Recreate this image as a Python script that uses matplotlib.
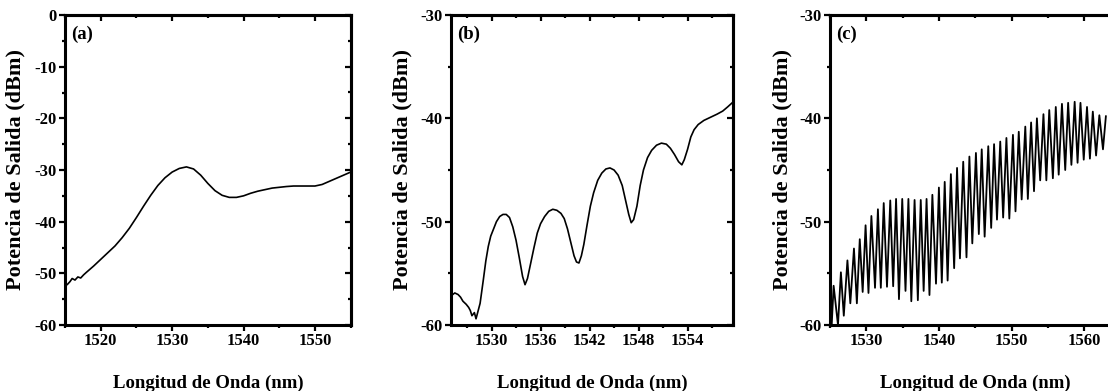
import numpy as np
import matplotlib
matplotlib.use("Agg")
import matplotlib.pyplot as plt
from matplotlib.ticker import MultipleLocator

plt.rcParams['font.family'] = ['Liberation Serif', 'DejaVu Serif']
plt.rcParams['font.weight'] = 'bold'
plt.rcParams['axes.unicode_minus'] = False

# ---------------- data ----------------
wl_a = [1515.0, 1515.3, 1515.7, 1516.0, 1516.4, 1516.8, 1517.2, 1517.6, 1518.0, 1518.5,
        1519.0, 1520.0, 1521.0, 1522.0, 1523.0, 1524.0, 1525.0, 1526.0, 1527.0, 1528.0,
        1529.0, 1530.0, 1531.0, 1532.0, 1533.0, 1534.0, 1535.0, 1536.0, 1537.0, 1538.0,
        1539.0, 1540.0, 1541.0, 1542.0, 1543.0, 1544.0, 1545.0, 1546.0, 1547.0, 1548.0,
        1549.0, 1550.0, 1551.0, 1552.0, 1553.0, 1554.0, 1555.0]
pw_a = [-52.0, -52.2, -51.6, -51.0, -51.3, -50.7, -50.9, -50.3, -49.8, -49.2,
        -48.6, -47.3, -46.0, -44.7, -43.1, -41.3, -39.2, -37.0, -34.9, -33.0,
        -31.5, -30.4, -29.7, -29.4, -29.8, -31.0, -32.6, -34.0, -34.9, -35.3,
        -35.3, -35.0, -34.5, -34.1, -33.8, -33.5, -33.35, -33.2, -33.1, -33.1,
        -33.1, -33.1, -32.8, -32.2, -31.6, -31.0, -30.4]

wl_b = [1525.0, 1525.5, 1525.9, 1526.2, 1526.5, 1526.9, 1527.2, 1527.4, 1527.6, 1527.9,
        1528.1, 1528.4, 1528.6, 1529.0, 1529.3, 1529.6, 1529.9, 1530.2, 1530.6, 1531.0,
        1531.4, 1531.8, 1532.2, 1532.6, 1533.0, 1533.4, 1533.8, 1534.1, 1534.4, 1534.8,
        1535.2, 1535.6, 1536.0, 1536.5, 1537.0, 1537.5, 1538.0, 1538.5, 1538.9, 1539.3,
        1539.7, 1540.1, 1540.4, 1540.7, 1541.0, 1541.3, 1541.7, 1542.1, 1542.5, 1543.0,
        1543.5, 1544.0, 1544.5, 1545.0, 1545.5, 1546.0, 1546.4, 1546.8, 1547.1, 1547.4,
        1547.8, 1548.2, 1548.6, 1549.1, 1549.6, 1550.2, 1550.8, 1551.4, 1551.9, 1552.4,
        1552.9, 1553.3, 1553.6, 1554.0, 1554.4, 1554.8, 1555.3, 1556.0, 1556.8, 1557.6,
        1558.3, 1558.9, 1559.6]
pw_b = [-57.2, -56.9, -57.05, -57.3, -57.7, -58.0, -58.3, -58.6, -59.1, -58.8,
        -59.4, -58.5, -57.9, -55.6, -53.8, -52.4, -51.4, -50.8, -50.0, -49.5,
        -49.3, -49.3, -49.6, -50.5, -51.8, -53.5, -55.3, -56.1, -55.5, -54.0,
        -52.5, -51.1, -50.2, -49.5, -49.0, -48.8, -48.9, -49.2, -49.7, -50.7,
        -52.0, -53.3, -53.9, -54.0, -53.3, -52.2, -50.3, -48.5, -47.2, -46.0,
        -45.3, -44.9, -44.8, -45.0, -45.5, -46.5, -47.9, -49.3, -50.1, -49.8,
        -48.5, -46.5, -45.0, -43.8, -43.1, -42.6, -42.4, -42.5, -42.9, -43.5,
        -44.2, -44.5, -44.0, -43.0, -41.8, -41.1, -40.6, -40.2, -39.9, -39.6,
        -39.3, -38.9, -38.4]

# panel (c): fringe peaks and valleys
peak_wl_c = [1525.5, 1526.5, 1527.4, 1528.3, 1529.1, 1529.9, 1530.7, 1531.6, 1532.4, 1533.3,
             1534.1, 1534.95, 1535.8, 1536.65, 1537.5, 1538.3, 1539.1, 1540.0, 1540.8, 1541.65,
             1542.5, 1543.35, 1544.2, 1545.1, 1545.9, 1546.8, 1547.6, 1548.45, 1549.3, 1550.2,
             1551.0, 1551.9, 1552.7, 1553.5, 1554.4, 1555.2, 1556.1, 1556.95, 1557.8, 1558.7,
             1559.5, 1560.4, 1561.2, 1562.1, 1563.0]
peak_pw_c = [-56.2, -54.9, -53.75, -52.6, -51.7, -50.35, -49.45, -48.8, -48.2, -47.95,
             -47.8, -47.8, -47.8, -47.9, -47.9, -47.8, -47.4, -46.7, -46.15, -45.4,
             -44.8, -44.2, -43.7, -43.35, -43.0, -42.7, -42.5, -42.25, -41.9, -41.6,
             -41.3, -40.8, -40.4, -40.0, -39.6, -39.2, -38.9, -38.6, -38.5, -38.4,
             -38.5, -38.9, -39.35, -39.7, -39.8]
valley_wl_c = [1525.2, 1526.1, 1526.9, 1527.8, 1528.7, 1529.5, 1530.3, 1531.2, 1532.0, 1532.85,
               1533.7, 1534.5, 1535.4, 1536.2, 1537.1, 1537.9, 1538.7, 1539.6, 1540.4, 1541.2,
               1542.1, 1542.9, 1543.8, 1544.6, 1545.5, 1546.3, 1547.2, 1548.0, 1548.85, 1549.7,
               1550.55, 1551.4, 1552.25, 1553.1, 1553.95, 1554.8, 1555.7, 1556.5, 1557.4, 1558.25,
               1559.1, 1559.95, 1560.8, 1561.65, 1562.6]
valley_pw_c = [-60.5, -60.0, -59.1, -57.9, -57.9, -56.8, -56.9, -56.4, -56.4, -56.3,
               -56.25, -57.5, -56.7, -57.7, -57.6, -56.7, -57.1, -56.0, -55.9, -55.7,
               -54.5, -53.55, -53.45, -52.1, -51.2, -51.45, -50.6, -49.8, -49.6, -49.7,
               -49.0, -47.85, -47.8, -47.05, -46.0, -46.0, -45.8, -45.45, -45.0, -44.5,
               -44.3, -44.0, -43.9, -43.6, -43.0]

panel_labels = ['(a)', '(b)', '(c)']
xlabel = 'Longitud de Onda (nm)'
ylabel = 'Potencia de Salida (dBm)'

# ---------------- figure ----------------
W, H = 1108, 391
fig = plt.figure(figsize=(W / 100, H / 100), dpi=100)

def px_axes(x0, x1, y_top, y_bot):
    return fig.add_axes([x0 / W, (H - y_bot) / H, (x1 - x0) / W, (y_bot - y_top) / H])

ax_a = px_axes(65, 350.7, 15, 325)
ax_b = px_axes(450.7, 733.3, 15, 325)
ax_c = px_axes(830, 1120.4, 15, 325)

wl_c, pw_c = [], []
for vw, vp, pkw, pkp in zip(valley_wl_c, valley_pw_c, peak_wl_c, peak_pw_c):
    wl_c += [vw, pkw]
    pw_c += [vp, pkp]

ax_a.plot(wl_a, pw_a, color='black', lw=1.2)
ax_b.plot(wl_b, pw_b, color='black', lw=1.2)
ax_c.plot(wl_c, pw_c, color='black', lw=1.3)

settings = [
    (ax_a, (1515, 1555), (-60, 0), 10, 5, 10, 5, -0.175),
    (ax_b, (1525, 1559.6), (-60, -30), 6, 3, 10, 5, -0.172),
    (ax_c, (1525, 1565), (-60, -30), 10, 5, 10, 5, -0.165),
]

for i, (ax, xl, yl, xmaj, xmin, ymaj, ymin, ylx) in enumerate(settings):
    ax.set_xlim(*xl)
    ax.set_ylim(*yl)
    ax.xaxis.set_major_locator(MultipleLocator(xmaj))
    ax.xaxis.set_minor_locator(MultipleLocator(xmin))
    ax.yaxis.set_major_locator(MultipleLocator(ymaj))
    ax.yaxis.set_minor_locator(MultipleLocator(ymin))
    for s in ax.spines.values():
        s.set_linewidth(2.2)
    ax.tick_params(which='major', direction='out', length=4, width=1.6,
                   labelsize=12, pad=2)
    ax.tick_params(which='minor', direction='out', length=2.5, width=1.6)
    for lab in ax.get_xticklabels() + ax.get_yticklabels():
        lab.set_fontweight('bold')
    # inward ticks on top / right
    sx = ax.secondary_xaxis('top')
    sx.xaxis.set_major_locator(MultipleLocator(xmaj))
    sx.xaxis.set_minor_locator(MultipleLocator(xmin))
    sx.tick_params(which='major', direction='in', length=4, width=1.6, labeltop=False)
    sx.tick_params(which='minor', direction='in', length=2.5, width=1.6)
    sx.spines['top'].set_linewidth(2.2)
    sy = ax.secondary_yaxis('right')
    sy.yaxis.set_major_locator(MultipleLocator(ymaj))
    sy.yaxis.set_minor_locator(MultipleLocator(ymin))
    sy.tick_params(which='major', direction='in', length=4, width=1.6, labelright=False)
    sy.tick_params(which='minor', direction='in', length=2.5, width=1.6)
    sy.spines['right'].set_linewidth(2.2)

    ax.set_xlabel(xlabel, fontsize=13.5, fontweight='bold')
    ax.xaxis.label.set_va('center')
    ax.xaxis.set_label_coords(0.5, -0.187)
    ax.set_ylabel(ylabel, fontsize=16, fontweight='bold')
    ax.yaxis.label.set_va('center')
    ax.yaxis.set_label_coords(ylx, 0.5)

    ax.text(0.022, 0.965, panel_labels[i], transform=ax.transAxes, ha='left', va='top',
            fontsize=13.5, fontweight='bold')

fig.savefig('out.png', dpi=100)
